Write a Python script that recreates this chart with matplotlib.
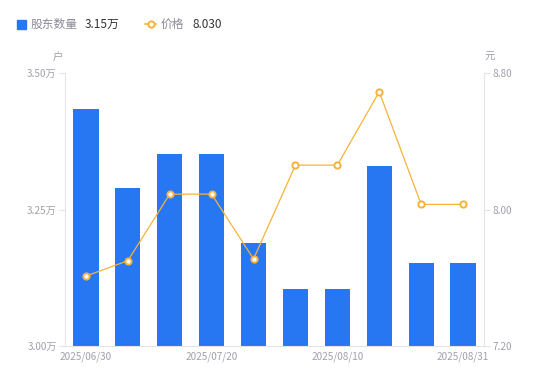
import numpy as np
import matplotlib
matplotlib.use("Agg")
import matplotlib.pyplot as plt
from matplotlib.lines import Line2D
from matplotlib.patches import Rectangle

plt.rcParams['font.family'] = ['Noto Sans CJK SC', 'DejaVu Sans']

dates = ["2025/06/30", "2025/07/10", "2025/07/15", "2025/07/20", "2025/07/31",
         "2025/08/05", "2025/08/10", "2025/08/15", "2025/08/20", "2025/08/31"]
holders = [3.434, 3.289, 3.352, 3.352, 3.189, 3.104, 3.104, 3.330, 3.152, 3.152]  # 万户
price = [7.61, 7.70, 8.09, 8.09, 7.71, 8.26, 8.26, 8.69, 8.03, 8.03]
left_ticks = [3.00, 3.25, 3.50]
right_ticks = [7.20, 8.00, 8.80]
shown = [0, 3, 6, 9]

bar_color = "#2777f2"
line_color = "#f7b23b"
tick_color = "#a0a0ac"
axis_color = "#e3e3e8"

fig = plt.figure(figsize=(5.5, 3.81), dpi=100)
ax = fig.add_axes([65 / 550, 1 - 346 / 381, 419 / 550, 273 / 381])
x = np.arange(len(dates))

ax.bar(x, holders, width=0.6, color=bar_color, zorder=2)
ax.set_xlim(-0.5, len(dates) - 0.5)
ax.set_ylim(3.0, 3.5)
ax.set_yticks(left_ticks)
ax.set_yticklabels([f"{v:.2f}万" for v in left_ticks])
ax.set_xticks([x[i] for i in shown])
ax.set_xticklabels([dates[i] for i in shown])

ax2 = ax.twinx()
ax2.plot(x, price, color=line_color, lw=0.9, marker="o", ms=4.5,
         mfc="white", mec=line_color, mew=1.4, zorder=3)
ax2.set_ylim(7.2, 8.8)
ax2.set_yticks(right_ticks)
ax2.set_yticklabels([f"{v:.2f}" for v in right_ticks])

for a in (ax, ax2):
    for s in a.spines.values():
        s.set_visible(False)
ax.spines['left'].set_visible(True)
ax.spines['bottom'].set_visible(True)
ax2.spines['right'].set_visible(True)
for s in (ax.spines['left'], ax.spines['bottom'], ax2.spines['right']):
    s.set_color(axis_color)
    s.set_linewidth(0.8)

ax.tick_params(axis='y', colors=axis_color, labelcolor=tick_color, labelsize=7.2,
               length=4, width=0.8, pad=2)
ax.tick_params(axis='x', length=0, labelcolor=tick_color, labelsize=7.2, pad=4)
ax2.tick_params(axis='y', colors=axis_color, labelcolor=tick_color, labelsize=7.2,
                length=4, width=0.8, pad=2)

# unit labels
fig.text(58 / 550, 1 - 57 / 381, "户", color=tick_color, fontsize=7.5, ha='center', va='center')
fig.text(490 / 550, 1 - 57 / 381, "元", color=tick_color, fontsize=7.5, ha='center', va='center')

# legend drawn by hand
fig.patches.append(Rectangle((17 / 550, 1 - 29 / 381), 9 / 550, 9 / 381,
                             transform=fig.transFigure, color=bar_color))
fig.text(31 / 550, 1 - 24 / 381, "股东数量", color="#8a8a96", fontsize=8.5, va='center')
fig.text(85 / 550, 1 - 24 / 381, f"{holders[-1]:.2f}万", color="#333333", fontsize=8.5, va='center')
fig.lines.append(Line2D([145 / 550, 156 / 550], [1 - 24 / 381, 1 - 24 / 381],
                        transform=fig.transFigure, color=line_color, lw=1.2,
                        marker="o", markevery=[1], ms=0))
fig.lines.append(Line2D([150.5 / 550], [1 - 24 / 381], transform=fig.transFigure,
                        color=line_color, marker="o", ms=4.5, mfc="white", mew=1.4))
fig.text(161 / 550, 1 - 24 / 381, "价格", color="#8a8a96", fontsize=8.5, va='center')
fig.text(192 / 550, 1 - 24 / 381, f"{price[-1]:.3f}", color="#333333", fontsize=8.5, va='center')

fig.savefig("out.png", dpi=100)
